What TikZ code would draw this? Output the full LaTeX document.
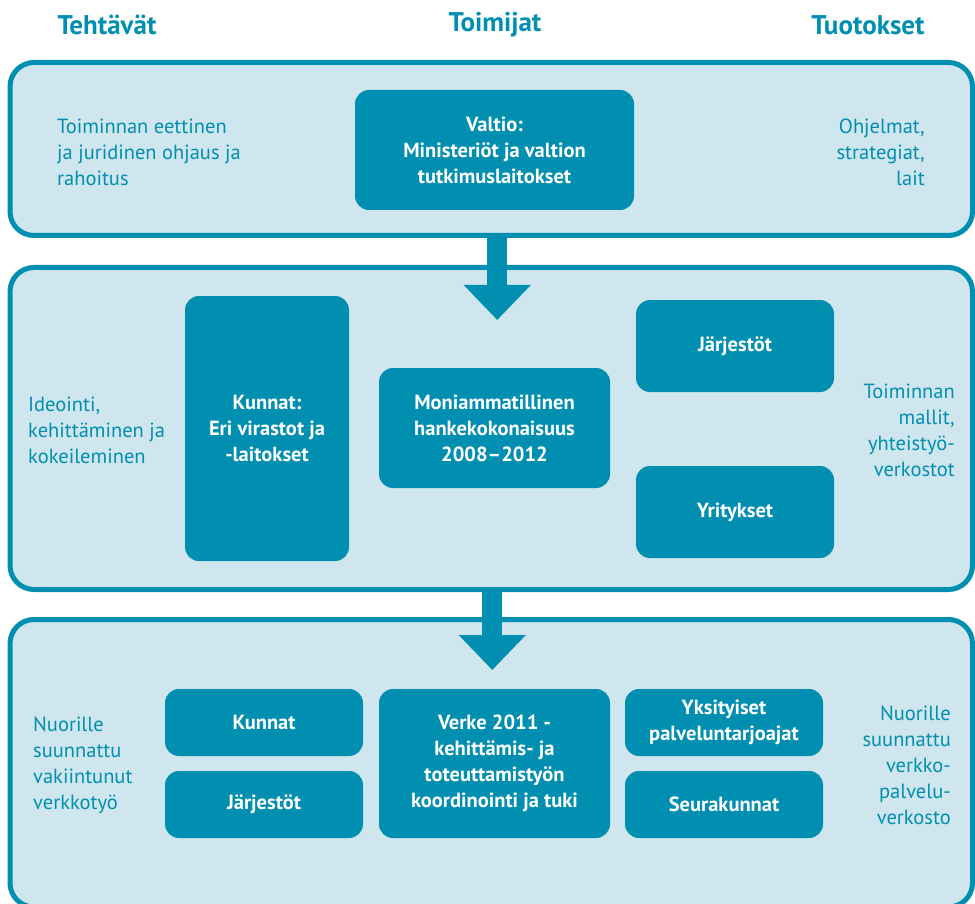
\documentclass[tikz,border=0pt]{standalone}
\usepackage{fontspec}
\setmainfont{PT Sans}
\usetikzlibrary{arrows.meta}
\definecolor{teal1}{RGB}{0,143,176}
\definecolor{pale}{RGB}{207,230,238}
\begin{document}
\begin{tikzpicture}[x=1pt,y=-1pt,
 panel/.style={draw=teal1, line width=5pt, fill=pale, rounded corners=24pt, inner sep=0pt},
 box/.style={fill=teal1, rounded corners=14pt, text=white, font=\bfseries\fontsize{20.5}{26}\selectfont, align=center, inner sep=0pt},
 lab/.style={text=teal1, font=\fontsize{20.5}{26}\selectfont, inner sep=0pt},
 head/.style={text=teal1, font=\bfseries\fontsize{27}{30}\selectfont, inner sep=0pt},
 bigarrow/.style={draw=teal1, line width=20pt, -{Triangle[width=65pt,length=35pt]}}]
\clip (0,0) rectangle (975,904);
% headers
\node[head] (h1) at (107,25) {Tehtävät};
\node[head] (h2) at (495,25) {Toimijat};
\node[head] (h3) at (868,25) {Tuotokset};
% panels
\node[panel, minimum width=962.5pt, minimum height=173pt] (p1) at (491.25,149) {};
\node[panel, minimum width=962.5pt, minimum height=322pt] (p2) at (491.25,428.5) {};
\node[panel, minimum width=962.5pt, minimum height=287.5pt] (p3) at (491.25,763.25) {};
% panel 1
\node[box, minimum width=279pt, minimum height=120pt] (valtio) at (494.5,150) {Valtio:\\Ministeriöt ja valtion\\tutkimuslaitokset};
\node[lab, anchor=west, align=left] (t1l) at (57,152) {Toiminnan eettinen\\ja juridinen ohjaus ja\\rahoitus};
\node[lab, anchor=east, align=right] (t1r) at (925,152) {Ohjelmat,\\strategiat,\\lait};
% panel 2
\node[box, minimum width=164pt, minimum height=265pt] (kunnat2) at (267,428.5) {Kunnat:\\Eri virastot ja\\-laitokset};
\node[box, minimum width=231pt, minimum height=120pt] (moni) at (494.5,428) {Moniammatillinen\\hankekokonaisuus\\2008–2012};
\node[box, minimum width=198pt, minimum height=92pt] (jarj2) at (735,346) {Järjestöt};
\node[box, minimum width=198pt, minimum height=92pt] (yrit) at (735,512) {Yritykset};
\node[lab, anchor=west, align=left] (t2l) at (28,430) {Ideointi,\\kehittäminen ja\\kokeileminen};
\node[lab, anchor=east, align=right] (t2r) at (955,430) {Toiminnan\\mallit,\\yhteistyö-\\verkostot};
% panel 3
\node[box, minimum width=198pt, minimum height=67pt] (kunnat3) at (264,722.5) {Kunnat};
\node[box, minimum width=198pt, minimum height=67pt] (jarj3) at (264,804.5) {Järjestöt};
\node[box, minimum width=231pt, minimum height=149pt] (verke) at (494.5,763.5) {Verke 2011 -\\kehittämis- ja\\toteuttamistyön\\koordinointi ja tuki};
\node[box, minimum width=198pt, minimum height=67pt] (yks) at (724,722.5) {Yksityiset\\palveluntarjoajat};
\node[box, minimum width=198pt, minimum height=67pt] (seur) at (724,804.5) {Seurakunnat};
\node[lab, anchor=west, align=left] (t3l) at (33,765) {Nuorille\\suunnattu\\vakiintunut\\verkkotyö};
\node[lab, anchor=east, align=right] (t3r) at (951,765) {Nuorille\\suunnattu\\verkko-\\palvelu-\\verkosto};
% arrows
\draw[bigarrow] ([xshift=6pt]p1.south) -- ([xshift=6pt,yshift=-82pt]p1.south);
\draw[bigarrow] ([xshift=1pt]p2.south) -- ([xshift=1pt,yshift=-78pt]p2.south);
\end{tikzpicture}
\end{document}
